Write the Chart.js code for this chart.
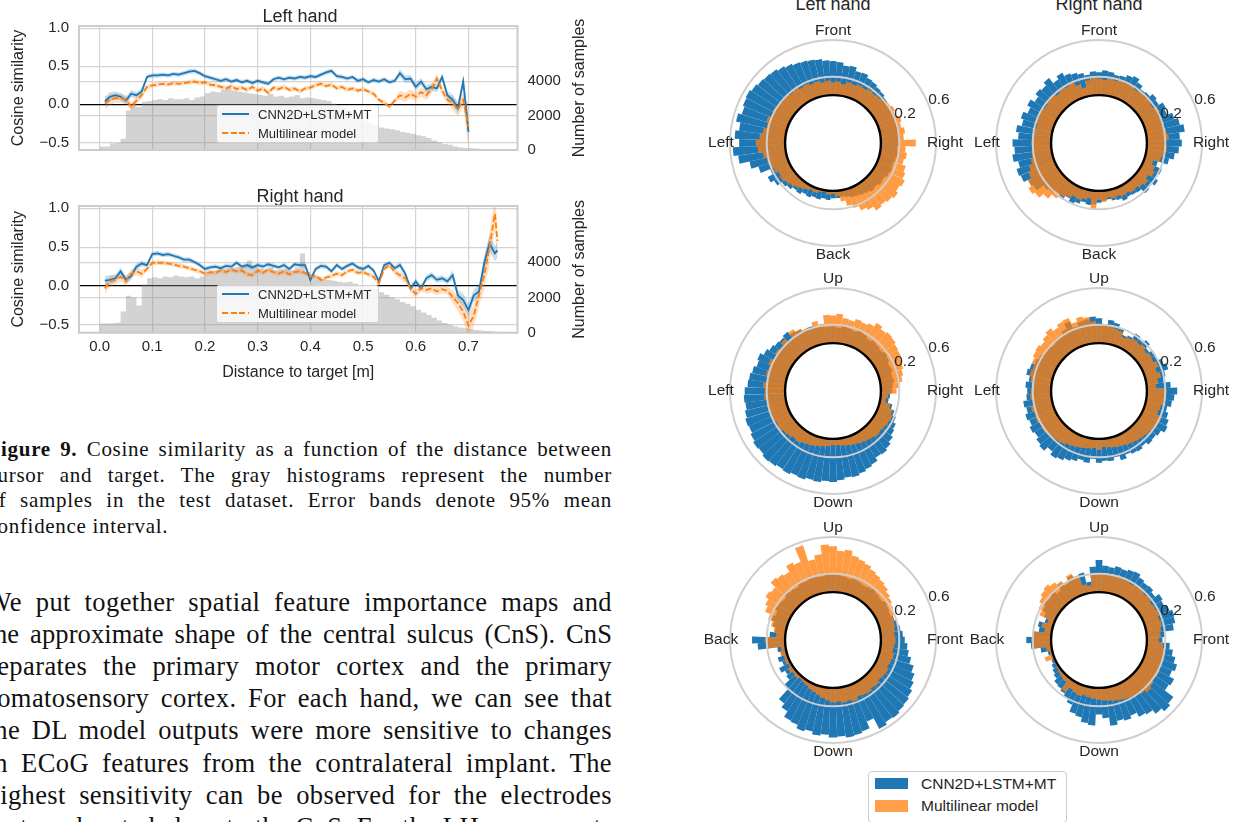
<!DOCTYPE html>
<html lang="en">
<head>
<meta charset="utf-8">
<title>Figure 9 - cosine similarity and sensitivity maps</title>
<script src="https://cdn.jsdelivr.net/npm/chart.js@4.4.1/dist/chart.umd.min.js"></script>
<style>
  html, body { margin: 0; padding: 0; background: #fff; }
  #page { position: relative; width: 1238px; height: 822px; overflow: hidden; background: #fff; }
  #page canvas { position: absolute; }
  .serif { position: absolute; font-family: "Liberation Serif", "Times New Roman", serif; color: #111; white-space: normal; }
  .cap { font-size: 21px; line-height: 25.5px; letter-spacing: 0.7px; left: -12.5px; width: 624.5px; text-align: justify; text-align-last: justify; }
  .cap.last { text-align-last: left; }
  .par { font-size: 26.5px; line-height: 32px; letter-spacing: 0.4px; left: -13.5px; width: 625.5px; text-align: justify; text-align-last: justify; }
  .par.tight { letter-spacing: 0.1px; }
  .sans { position: absolute; font-family: "Liberation Sans", Arial, sans-serif; color: #262626; white-space: nowrap; }
  .ptitle { font-size: 18px; line-height: 18px; width: 200px; text-align: center; }
  .lgd { position: absolute; box-sizing: border-box; width: 163px; height: 38px; background: rgba(255,255,255,0.8); border: 1px solid #d0d0d0; border-radius: 3px; }
  .lgd .solid { position: absolute; left: 5px; top: 6.5px; width: 27px; height: 2px; background: #1f77b4; }
  .lgd .dash { position: absolute; left: 5px; top: 25.8px; width: 27px; height: 2px; background: repeating-linear-gradient(90deg, #ff7f0e 0 6px, transparent 6px 8.6px); }
  .lgd .lab { position: absolute; left: 41px; font-size: 13px; line-height: 16px; }
  .plgd { position: absolute; box-sizing: border-box; left: 868px; top: 771px; width: 199px; height: 52px; background: #fff; border: 1.5px solid #cccccc; border-radius: 4px; }
  .plgd .patch { position: absolute; left: 6px; width: 33px; }
  .plgd .lab { position: absolute; left: 52px; font-size: 15.5px; line-height: 18px; }
</style>
</head>
<body>
<div id="page">
  <canvas id="cos-left" width="600" height="160" style="left:0;top:0"></canvas>
  <canvas id="cos-right" width="600" height="204" style="left:0;top:180px"></canvas>

  <div class="lgd" style="left:216px;top:105px">
    <span class="solid"></span><span class="sans lab" style="top:0.5px">CNN2D+LSTM+MT</span>
    <span class="dash"></span><span class="sans lab" style="top:19.8px">Multilinear model</span>
  </div>
  <div class="lgd" style="left:216px;top:285px">
    <span class="solid"></span><span class="sans lab" style="top:0.5px">CNN2D+LSTM+MT</span>
    <span class="dash"></span><span class="sans lab" style="top:19.8px">Multilinear model</span>
  </div>

  <div class="serif cap" style="top:437px"><b>Figure 9.</b> Cosine similarity as a function of the distance between</div>
  <div class="serif cap" style="top:462.5px">cursor and target. The gray histograms represent the number</div>
  <div class="serif cap" style="top:488px">of samples in the test dataset. Error bands denote 95% mean</div>
  <div class="serif cap last" style="top:513.5px">confidence interval.</div>

  <div class="serif par" style="top:586px">We put together spatial feature importance maps and</div>
  <div class="serif par tight" style="top:618px">the approximate shape of the central sulcus (CnS). CnS</div>
  <div class="serif par" style="top:650px">separates the primary motor cortex and the primary</div>
  <div class="serif par" style="top:682px">somatosensory cortex. For each hand, we can see that</div>
  <div class="serif par" style="top:714px">the DL model outputs were more sensitive to changes</div>
  <div class="serif par" style="top:746.5px">in ECoG features from the contralateral implant. The</div>
  <div class="serif par" style="top:778.5px">highest sensitivity can be observed for the electrodes</div>
  <div class="serif par" style="top:810.5px">that are located close to the CnS. For the LH movements</div>

  <div class="sans ptitle" style="left:733px;top:-5px">Left hand</div>
  <div class="sans ptitle" style="left:999px;top:-5px">Right hand</div>

  <canvas id="pol-lh-fb" width="264" height="246" style="left:701px;top:20px"></canvas>
  <canvas id="pol-rh-fb" width="264" height="246" style="left:967px;top:20px"></canvas>
  <canvas id="pol-lh-ud" width="264" height="246" style="left:701px;top:268px"></canvas>
  <canvas id="pol-rh-ud" width="264" height="246" style="left:967px;top:268px"></canvas>
  <canvas id="pol-lh-bf" width="264" height="246" style="left:701px;top:517px"></canvas>
  <canvas id="pol-rh-bf" width="264" height="246" style="left:967px;top:517px"></canvas>

  <div class="plgd">
    <span class="patch" style="top:6px;height:10.5px;background:#1f77b4"></span>
    <span class="sans lab" style="top:2.5px">CNN2D+LSTM+MT</span>
    <span class="patch" style="top:28px;height:11.5px;background:rgba(255,127,14,0.75)"></span>
    <span class="sans lab" style="top:25px">Multilinear model</span>
  </div>
</div>

<script>
// ------------------------------------------------------------
// Data: cosine similarity vs distance to target
// ------------------------------------------------------------
const DIST_LH = [
  0.01, 0.02, 0.03, 0.04, 0.05, 0.06, 0.07, 0.08, 0.09, 0.10,
  0.11, 0.12, 0.13, 0.14, 0.15, 0.16, 0.17, 0.18, 0.19, 0.20,
  0.21, 0.22, 0.23, 0.24, 0.25, 0.26, 0.27, 0.28, 0.29, 0.30,
  0.31, 0.32, 0.33, 0.34, 0.35, 0.36, 0.37, 0.38, 0.39, 0.40,
  0.41, 0.42, 0.43, 0.44, 0.45, 0.46, 0.47, 0.48, 0.49, 0.50,
  0.51, 0.52, 0.53, 0.54, 0.55, 0.56, 0.57, 0.58, 0.59, 0.60,
  0.61, 0.62, 0.63, 0.64, 0.65, 0.66, 0.67, 0.68, 0.69, 0.70
];
const CNN_LH = [
  0.04, 0.10, 0.12, 0.10, 0.05, 0.14, 0.12, 0.17, 0.36, 0.38,
  0.38, 0.39, 0.38, 0.40, 0.39, 0.41, 0.43, 0.44, 0.41, 0.37,
  0.35, 0.33, 0.31, 0.33, 0.30, 0.32, 0.29, 0.31, 0.28, 0.31,
  0.29, 0.27, 0.33, 0.35, 0.33, 0.35, 0.34, 0.36, 0.35, 0.37,
  0.36, 0.39, 0.42, 0.44, 0.37, 0.36, 0.34, 0.36, 0.31, 0.33,
  0.29, 0.32, 0.30, 0.33, 0.29, 0.31, 0.41, 0.33, 0.34, 0.23,
  0.30, 0.20, 0.23, 0.21, 0.36, 0.12, 0.06, -0.05, 0.30, -0.36
];
const ML_LH = [
  0.01, 0.06, 0.08, 0.08, 0.06, -0.03, 0.05, 0.12, 0.23, 0.25,
  0.26, 0.27, 0.26, 0.28, 0.27, 0.28, 0.29, 0.30, 0.28, 0.29,
  0.26, 0.25, 0.23, 0.21, 0.24, 0.20, 0.22, 0.19, 0.23, 0.18,
  0.21, 0.15, 0.22, 0.20, 0.23, 0.19, 0.21, 0.17, 0.21, 0.22,
  0.25, 0.27, 0.24, 0.26, 0.21, 0.23, 0.19, 0.21, 0.18, 0.20,
  0.17, 0.14, 0.06, 0.02, -0.03, 0.05, 0.12, 0.09, 0.14, 0.10,
  0.16, 0.12, 0.20, 0.34, 0.18, 0.06, 0.02, -0.07, 0.06, -0.30
];
// half widths of the 95% confidence bands
const CI_CNN_LH = [
  0.06, 0.06, 0.05, 0.05, 0.05, 0.05, 0.04, 0.04, 0.03, 0.03,
  0.03, 0.03, 0.03, 0.03, 0.03, 0.03, 0.03, 0.03, 0.03, 0.03,
  0.03, 0.03, 0.03, 0.03, 0.03, 0.03, 0.03, 0.03, 0.03, 0.03,
  0.03, 0.03, 0.03, 0.03, 0.03, 0.03, 0.03, 0.03, 0.03, 0.03,
  0.03, 0.03, 0.03, 0.03, 0.03, 0.03, 0.03, 0.03, 0.03, 0.03,
  0.03, 0.03, 0.03, 0.03, 0.03, 0.03, 0.05, 0.05, 0.05, 0.05,
  0.05, 0.05, 0.05, 0.05, 0.05, 0.05, 0.07, 0.07, 0.07, 0.15
];
const CI_ML_LH = [
  0.07, 0.07, 0.06, 0.06, 0.06, 0.06, 0.05, 0.05, 0.03, 0.03,
  0.03, 0.03, 0.03, 0.03, 0.03, 0.03, 0.03, 0.03, 0.03, 0.03,
  0.03, 0.03, 0.03, 0.03, 0.03, 0.03, 0.03, 0.03, 0.03, 0.03,
  0.03, 0.03, 0.03, 0.03, 0.03, 0.03, 0.03, 0.03, 0.03, 0.03,
  0.03, 0.03, 0.03, 0.03, 0.03, 0.03, 0.03, 0.03, 0.03, 0.03,
  0.03, 0.03, 0.03, 0.03, 0.03, 0.03, 0.06, 0.06, 0.06, 0.06,
  0.06, 0.06, 0.06, 0.06, 0.06, 0.06, 0.09, 0.09, 0.09, 0.30
];

const DIST_RH = [
  0.01, 0.02, 0.03, 0.04, 0.05, 0.06, 0.07, 0.08, 0.09, 0.10,
  0.11, 0.12, 0.13, 0.14, 0.15, 0.16, 0.17, 0.18, 0.19, 0.20,
  0.21, 0.22, 0.23, 0.24, 0.25, 0.26, 0.27, 0.28, 0.29, 0.30,
  0.31, 0.32, 0.33, 0.34, 0.35, 0.36, 0.37, 0.38, 0.39, 0.40,
  0.41, 0.42, 0.43, 0.44, 0.45, 0.46, 0.47, 0.48, 0.49, 0.50,
  0.51, 0.52, 0.53, 0.54, 0.55, 0.56, 0.57, 0.58, 0.59, 0.60,
  0.61, 0.62, 0.63, 0.64, 0.65, 0.66, 0.67, 0.68, 0.69, 0.70,
  0.71, 0.72, 0.73, 0.74, 0.75, 0.755
];
const CNN_RH = [
  0.07, 0.08, 0.10, 0.19, 0.08, 0.13, 0.25, 0.29, 0.27, 0.41,
  0.42, 0.40, 0.41, 0.39, 0.37, 0.34, 0.34, 0.31, 0.27, 0.22,
  0.24, 0.25, 0.23, 0.26, 0.25, 0.30, 0.25, 0.27, 0.24, 0.27,
  0.25, 0.28, 0.26, 0.24, 0.27, 0.22, 0.28, 0.27, 0.27, 0.08,
  0.22, 0.26, 0.25, 0.19, 0.27, 0.22, 0.26, 0.29, 0.24, 0.22,
  0.26, 0.20, 0.06, 0.27, 0.30, 0.23, 0.27, 0.16, -0.03, 0.06,
  -0.03, 0.10, 0.14, 0.08, 0.10, 0.06, 0.14, -0.12, -0.18, -0.31,
  -0.12, -0.07, 0.30, 0.55, 0.42, 0.46
];
const ML_RH = [
  -0.03, 0.06, 0.08, 0.12, 0.06, 0.16, 0.19, 0.16, 0.22, 0.30,
  0.30, 0.30, 0.29, 0.28, 0.26, 0.25, 0.23, 0.21, 0.19, 0.16,
  0.18, 0.17, 0.20, 0.18, 0.21, 0.19, 0.20, 0.15, 0.14, 0.20,
  0.17, 0.21, 0.18, 0.16, 0.19, 0.15, 0.18, 0.19, 0.17, 0.12,
  0.13, 0.08, 0.11, 0.13, 0.16, 0.14, 0.19, 0.21, 0.17, 0.18,
  0.15, 0.12, 0.03, 0.22, 0.27, 0.18, 0.14, 0.10, -0.03, -0.10,
  -0.02, -0.05, -0.03, -0.07, -0.04, -0.06, -0.14, -0.22, -0.33, -0.51,
  -0.38, -0.12, 0.14, 0.50, 0.93, 0.58
];
const CI_CNN_RH = [
  0.06, 0.06, 0.05, 0.05, 0.05, 0.05, 0.04, 0.04, 0.03, 0.03,
  0.03, 0.03, 0.03, 0.03, 0.03, 0.03, 0.03, 0.03, 0.03, 0.03,
  0.03, 0.03, 0.03, 0.03, 0.03, 0.03, 0.03, 0.03, 0.03, 0.03,
  0.03, 0.03, 0.03, 0.03, 0.03, 0.03, 0.03, 0.03, 0.03, 0.03,
  0.03, 0.03, 0.03, 0.03, 0.03, 0.03, 0.03, 0.03, 0.03, 0.03,
  0.03, 0.03, 0.03, 0.03, 0.03, 0.03, 0.04, 0.04, 0.04, 0.04,
  0.04, 0.04, 0.04, 0.04, 0.04, 0.04, 0.06, 0.07, 0.08, 0.08,
  0.08, 0.08, 0.10, 0.10, 0.10, 0.10
];
const CI_ML_RH = [
  0.07, 0.07, 0.06, 0.06, 0.06, 0.06, 0.05, 0.05, 0.03, 0.03,
  0.03, 0.03, 0.03, 0.03, 0.03, 0.03, 0.03, 0.03, 0.03, 0.03,
  0.03, 0.03, 0.03, 0.03, 0.03, 0.03, 0.03, 0.03, 0.03, 0.03,
  0.03, 0.03, 0.03, 0.03, 0.03, 0.03, 0.03, 0.03, 0.03, 0.03,
  0.03, 0.03, 0.03, 0.03, 0.03, 0.03, 0.03, 0.03, 0.03, 0.03,
  0.03, 0.03, 0.03, 0.03, 0.03, 0.03, 0.05, 0.05, 0.05, 0.05,
  0.05, 0.05, 0.05, 0.05, 0.05, 0.05, 0.08, 0.10, 0.12, 0.14,
  0.14, 0.14, 0.18, 0.20, 0.22, 0.22
];

// number of test samples per 1 cm distance bin (0.00 - 0.76 m)
const HIST_LH = [
  190, 200, 380, 400, 650, 2300, 2700, 2500, 2800, 2850,
  2900, 2950, 2900, 3000, 2950, 2950, 3000, 2900, 3050, 3100,
  3300, 3400, 3350, 3500, 3600, 3450, 3400, 3350, 3300, 3250,
  3200, 3150, 3250, 3100, 3150, 3050, 3100, 3200, 3000, 3050,
  3000, 2950, 2900, 2850, 2700, 2600, 2450, 2300, 2100, 1900,
  1700, 1550, 1450, 1300, 1250, 1200, 1150, 1050, 1000, 950,
  850, 800, 700, 550, 450, 350, 300, 200, 150, 120,
  100, 80, 60, 50, 30, 20
];
const HIST_RH = [
  520, 520, 540, 560, 1200, 2100, 2000, 1550, 2750, 3100,
  3150, 3100, 3200, 3150, 3250, 3200, 3150, 3200, 3100, 3200,
  3450, 3500, 3550, 3600, 3650, 3700, 3750, 3800, 4100, 3700,
  3650, 3600, 3700, 3550, 3600, 3650, 3550, 3700, 4500, 3450,
  3300, 3200, 3050, 3000, 2950, 2900, 2850, 2900, 2800, 2700,
  2600, 2550, 2500, 2300, 2150, 2000, 1900, 1750, 1650, 1500,
  1300, 1150, 1000, 850, 700, 550, 450, 350, 300, 250,
  200, 150, 120, 100, 80, 60
];

const X_TICKS = [0.0, 0.1, 0.2, 0.3, 0.4, 0.5, 0.6, 0.7];
const COS_TICKS = [-0.5, 0.0, 0.5, 1.0];
const SAMPLE_TICKS = [0, 2000, 4000];

// ------------------------------------------------------------
// Data: sensitivity per direction, 72 bins of 5 deg, clockwise from top
// ------------------------------------------------------------
const CNN_LH_FB = [
  0.37, 0.36, 0.33, 0.34, 0.30, 0.31, 0.28, 0.27, 0.25, 0.24, 0.22, 0.21,
  0.20, 0.21, 0.19, 0.20, 0.21, 0.19, 0.20, 0.18, 0.19, 0.18, 0.17, 0.18,
  0.17, 0.15, 0.16, 0.14, 0.15, 0.13, 0.12, 0.11, 0.10, 0.08, 0.07, 0.08,
  0.08, 0.10, 0.09, 0.11, 0.10, 0.12, 0.11, 0.14, 0.13, 0.16, 0.18, 0.24,
  0.28, 0.22, 0.33, 0.41, 0.52, 0.57, 0.50, 0.55, 0.51, 0.56, 0.52, 0.54,
  0.55, 0.53, 0.51, 0.50, 0.49, 0.47, 0.45, 0.43, 0.42, 0.41, 0.40, 0.38
];
const ML_LH_FB = [
  0.14, 0.15, 0.13, 0.16, 0.15, 0.17, 0.16, 0.18, 0.17, 0.18, 0.20, 0.22,
  0.24, 0.22, 0.26, 0.24, 0.27, 0.25, 0.38, 0.27, 0.29, 0.27, 0.31, 0.33,
  0.36, 0.34, 0.37, 0.35, 0.33, 0.35, 0.30, 0.27, 0.22, 0.18, 0.12, 0.06,
  0.03, 0.04, 0.02, 0.03, 0.05, 0.04, 0.06, 0.08, 0.10, 0.12, 0.14, 0.16,
  0.15, 0.18, 0.20, 0.22, 0.25, 0.30, 0.32, 0.28, 0.25, 0.22, 0.24, 0.21,
  0.22, 0.20, 0.19, 0.21, 0.18, 0.19, 0.17, 0.18, 0.16, 0.17, 0.15, 0.16
];
const CNN_RH_FB = [
  0.25, 0.27, 0.26, 0.24, 0.25, 0.28, 0.30, 0.26, 0.22, 0.23, 0.27, 0.25,
  0.30, 0.28, 0.34, 0.38, 0.42, 0.36, 0.38, 0.35, 0.31, 0.26, 0.15, 0.22,
  0.20, 0.24, 0.19, 0.22, 0.16, 0.15, 0.14, 0.16, 0.13, 0.12, 0.10, 0.11,
  0.13, 0.15, 0.16, 0.14, 0.17, 0.19, 0.16, 0.21, 0.18, 0.22, 0.24, 0.33,
  0.35, 0.40, 0.42, 0.38, 0.43, 0.40, 0.42, 0.36, 0.39, 0.34, 0.37, 0.32,
  0.36, 0.31, 0.35, 0.33, 0.37, 0.30, 0.34, 0.30, 0.28, 0.26, 0.23, 0.26
];
const ML_RH_FB = [
  0.18, 0.17, 0.19, 0.18, 0.20, 0.19, 0.21, 0.18, 0.20, 0.19, 0.21, 0.18,
  0.22, 0.19, 0.21, 0.20, 0.22, 0.24, 0.20, 0.22, 0.19, 0.17, 0.10, 0.14,
  0.16, 0.12, 0.15, 0.13, 0.11, 0.12, 0.10, 0.11, 0.09, 0.10, 0.08, 0.12,
  0.10, 0.20, 0.09, 0.11, 0.13, 0.12, 0.15, 0.18, 0.24, 0.30, 0.36, 0.39,
  0.35, 0.31, 0.28, 0.24, 0.22, 0.20, 0.21, 0.19, 0.20, 0.18, 0.21, 0.19,
  0.20, 0.18, 0.19, 0.20, 0.17, 0.19, 0.18, 0.20, 0.15, 0.10, 0.17, 0.19
];
const CNN_LH_UD = [
  0.18, 0.17, 0.19, 0.18, 0.17, 0.19, 0.18, 0.16, 0.18, 0.17, 0.16, 0.18,
  0.17, 0.15, 0.16, 0.14, 0.15, 0.13, 0.12, 0.10, 0.09, 0.14, 0.18, 0.22,
  0.25, 0.27, 0.30, 0.33, 0.35, 0.34, 0.38, 0.40, 0.42, 0.44, 0.43, 0.45,
  0.47, 0.46, 0.48, 0.47, 0.49, 0.48, 0.50, 0.49, 0.51, 0.52, 0.50, 0.51,
  0.49, 0.47, 0.48, 0.46, 0.44, 0.45, 0.44, 0.41, 0.40, 0.38, 0.35, 0.37,
  0.33, 0.30, 0.28, 0.27, 0.29, 0.25, 0.24, 0.21, 0.22, 0.20, 0.19, 0.18
];
const ML_LH_UD = [
  0.30, 0.32, 0.28, 0.27, 0.30, 0.29, 0.31, 0.36, 0.33, 0.35, 0.34, 0.32,
  0.31, 0.29, 0.28, 0.26, 0.24, 0.21, 0.17, 0.08, 0.06, 0.12, 0.16, 0.18,
  0.17, 0.16, 0.15, 0.16, 0.14, 0.13, 0.12, 0.11, 0.10, 0.09, 0.08, 0.07,
  0.07, 0.08, 0.09, 0.10, 0.11, 0.12, 0.13, 0.15, 0.14, 0.16, 0.17, 0.19,
  0.18, 0.20, 0.19, 0.21, 0.20, 0.23, 0.22, 0.24, 0.21, 0.23, 0.22, 0.24,
  0.20, 0.23, 0.21, 0.25, 0.19, 0.28, 0.24, 0.22, 0.20, 0.26, 0.22, 0.31
];
const CNN_RH_UD = [
  0.27, 0.21, 0.26, 0.24, 0.20, 0.14, 0.16, 0.22, 0.19, 0.23, 0.17, 0.21,
  0.20, 0.24, 0.27, 0.22, 0.19, 0.26, 0.33, 0.30, 0.28, 0.24, 0.27, 0.30,
  0.32, 0.28, 0.26, 0.27, 0.24, 0.26, 0.25, 0.23, 0.27, 0.22, 0.25, 0.24,
  0.26, 0.22, 0.27, 0.25, 0.28, 0.30, 0.33, 0.35, 0.31, 0.36, 0.34, 0.31,
  0.33, 0.30, 0.32, 0.29, 0.31, 0.27, 0.26, 0.28, 0.25, 0.29, 0.27, 0.24,
  0.22, 0.20, 0.19, 0.18, 0.21, 0.20, 0.24, 0.30, 0.22, 0.26, 0.27, 0.29
];
const ML_RH_UD = [
  0.20, 0.19, 0.21, 0.18, 0.17, 0.12, 0.14, 0.16, 0.15, 0.17, 0.14, 0.16,
  0.15, 0.18, 0.14, 0.17, 0.13, 0.10, 0.21, 0.20, 0.19, 0.17, 0.16, 0.22,
  0.21, 0.19, 0.18, 0.17, 0.16, 0.15, 0.14, 0.13, 0.12, 0.11, 0.10, 0.09,
  0.12, 0.10, 0.11, 0.12, 0.13, 0.14, 0.15, 0.17, 0.18, 0.19, 0.20, 0.22,
  0.21, 0.23, 0.22, 0.24, 0.21, 0.23, 0.22, 0.21, 0.23, 0.25, 0.24, 0.27,
  0.29, 0.30, 0.28, 0.31, 0.34, 0.30, 0.33, 0.34, 0.27, 0.31, 0.29, 0.24
];
const CNN_LH_BF = [
  0.20, 0.19, 0.18, 0.17, 0.18, 0.17, 0.16, 0.17, 0.18, 0.17, 0.16, 0.18,
  0.17, 0.16, 0.18, 0.20, 0.22, 0.24, 0.26, 0.29, 0.31, 0.35, 0.40, 0.44,
  0.47, 0.50, 0.52, 0.53, 0.55, 0.54, 0.57, 0.44, 0.52, 0.54, 0.55, 0.53,
  0.54, 0.51, 0.53, 0.50, 0.52, 0.48, 0.47, 0.40, 0.35, 0.20, 0.12, 0.10,
  0.14, 0.08, 0.11, 0.06, 0.09, 0.30, 0.36, 0.17, 0.12, 0.15, 0.18, 0.16,
  0.19, 0.18, 0.17, 0.19, 0.18, 0.17, 0.19, 0.18, 0.20, 0.19, 0.18, 0.20
];
const ML_LH_BF = [
  0.50, 0.45, 0.47, 0.42, 0.40, 0.38, 0.35, 0.33, 0.31, 0.29, 0.26, 0.24,
  0.22, 0.20, 0.18, 0.17, 0.16, 0.15, 0.16, 0.15, 0.14, 0.16, 0.15, 0.14,
  0.16, 0.15, 0.14, 0.16, 0.15, 0.17, 0.16, 0.15, 0.18, 0.16, 0.17, 0.15,
  0.16, 0.14, 0.12, 0.10, 0.08, 0.07, 0.05, 0.04, 0.03, 0.05, 0.04, 0.06,
  0.03, 0.05, 0.04, 0.07, 0.05, 0.21, 0.22, 0.10, 0.13, 0.17, 0.22, 0.28,
  0.31, 0.35, 0.33, 0.40, 0.38, 0.36, 0.43, 0.40, 0.56, 0.38, 0.42, 0.52
];
const CNN_RH_BF = [
  0.35, 0.29, 0.28, 0.30, 0.29, 0.31, 0.32, 0.29, 0.27, 0.28, 0.25, 0.30,
  0.28, 0.31, 0.34, 0.33, 0.30, 0.20, 0.17, 0.25, 0.29, 0.33, 0.37, 0.34,
  0.40, 0.38, 0.50, 0.53, 0.49, 0.44, 0.42, 0.37, 0.40, 0.38, 0.42, 0.33,
  0.29, 0.41, 0.39, 0.34, 0.32, 0.24, 0.20, 0.17, 0.15, 0.14, 0.10, 0.08,
  0.06, 0.04, 0.03, 0.05, 0.12, 0.22, 0.27, 0.20, 0.14, 0.16, 0.10, 0.13,
  0.17, 0.19, 0.18, 0.20, 0.16, 0.22, 0.18, 0.24, 0.21, 0.23, 0.12, 0.28
];
const ML_RH_BF = [
  0.20, 0.19, 0.20, 0.21, 0.19, 0.20, 0.18, 0.19, 0.20, 0.18, 0.19, 0.17,
  0.18, 0.19, 0.17, 0.18, 0.16, 0.15, 0.13, 0.18, 0.20, 0.21, 0.19, 0.20,
  0.22, 0.21, 0.23, 0.25, 0.22, 0.20, 0.19, 0.18, 0.17, 0.16, 0.15, 0.14,
  0.13, 0.12, 0.11, 0.10, 0.12, 0.11, 0.09, 0.15, 0.06, 0.05, 0.04, 0.03,
  0.02, 0.02, 0.10, 0.03, 0.06, 0.20, 0.21, 0.19, 0.08, 0.12, 0.07, 0.18,
  0.22, 0.25, 0.28, 0.30, 0.27, 0.24, 0.20, 0.26, 0.22, 0.10, 0.08, 0.21
];
const R_TICKS = [0.0, 0.2, 0.6];
const DIR_FB = ['Front', 'Right', 'Back', 'Left'];
const DIR_UD = ['Up', 'Right', 'Down', 'Left'];
const DIR_BF = ['Up', 'Front', 'Down', 'Back'];

(function () {
  'use strict';

  var BLUE = '#1f77b4';
  var ORANGE = '#ff7f0e';
  var GRID = '#d4d4d4';
  var TEXT = '#262626';

  Chart.defaults.font.family = '"Liberation Sans", Arial, sans-serif';
  Chart.defaults.color = TEXT;

  // bin grids (1 cm histogram edges, 5 degree direction bins)
  var HIST_EDGES = [];
  for (var i = 0; i <= 76; i++) HIST_EDGES.push(i / 100);
  var BIN_DEG = [];
  for (var k = 0; k < 72; k++) BIN_DEG.push(k * 5);

  // --- helpers ---

  function pts(xs, ys) {
    return xs.map(function (x, j) { return { x: x, y: ys[j] }; });
  }

  function shifted(xs, ys, hw, sign) {
    return xs.map(function (x, j) { return { x: x, y: ys[j] + sign * hw[j] }; });
  }

  function histPts(counts) {
    return HIST_EDGES.map(function (e, j) {
      return { x: e, y: counts[Math.min(j, counts.length - 1)] };
    });
  }

  function isZero(c) {
    return c.tick && c.tick.value === 0;
  }

  // --- plugins ---

  var frame = {
    id: 'frame',
    afterDraw: function (chart) {
      var a = chart.chartArea, ctx = chart.ctx;
      ctx.save();
      ctx.strokeStyle = '#cccccc';
      ctx.lineWidth = 2;
      ctx.strokeRect(a.left, a.top, a.right - a.left, a.bottom - a.top);
      ctx.restore();
    }
  };

  // right y axis title, read bottom-to-top like the left one
  var rightTitle = {
    id: 'rightTitle',
    afterDraw: function (chart) {
      var a = chart.chartArea, ctx = chart.ctx;
      var text = chart.options.scales.y2.title.text;
      ctx.save();
      ctx.translate(a.right + 62, (a.top + a.bottom) / 2);
      ctx.rotate(-Math.PI / 2);
      ctx.font = '16px "Liberation Sans", Arial, sans-serif';
      ctx.fillStyle = TEXT;
      ctx.textAlign = 'center';
      ctx.textBaseline = 'middle';
      ctx.fillText(text, 0, 0);
      ctx.restore();
    }
  };

  var polarDeco = {
    id: 'polarDeco',
    afterDatasetsDraw: function (chart) {
      var s = chart.scales.r, ctx = chart.ctx;
      ctx.save();
      ctx.beginPath();
      ctx.arc(s.xCenter, s.yCenter, s.getDistanceFromCenterForValue(0), 0, Math.PI * 2);
      ctx.fillStyle = '#fff';
      ctx.fill();
      ctx.restore();
    },
    afterDraw: function (chart, args, opts) {
      var s = chart.scales.r, ctx = chart.ctx;
      ctx.save();
      ctx.font = '15.5px "Liberation Sans", Arial, sans-serif';
      ctx.fillStyle = TEXT;
      ctx.textAlign = 'center';
      ctx.textBaseline = 'middle';
      var rl = s.drawingArea + 9;
      opts.labels.forEach(function (t, q) {
        var ang = q * Math.PI / 2;
        ctx.fillText(t, s.xCenter + rl * Math.sin(ang), s.yCenter - rl * Math.cos(ang));
      });
      // radial tick labels at 22.5 deg above the horizontal
      var ta = 67.5 * Math.PI / 180;
      ctx.textAlign = 'left';
      ctx.textBaseline = 'alphabetic';
      s.ticks.forEach(function (t) {
        if (t.value <= 0) return;
        var r = s.getDistanceFromCenterForValue(t.value);
        ctx.fillText(t.value.toFixed(1), s.xCenter + r * Math.sin(ta), s.yCenter - r * Math.cos(ta));
      });
      ctx.restore();
    }
  };

  // --- cosine similarity charts ---

  function distanceChart(id, cfg) {
    var ds = [
      { label: 'CNN2D+LSTM+MT', data: pts(cfg.dist, cfg.cnn), borderColor: BLUE, borderWidth: 1.8, order: 2 },
      { label: 'Multilinear model', data: pts(cfg.dist, cfg.ml), borderColor: ORANGE, borderWidth: 1.8, borderDash: [6, 2.6], order: 1 },
      { data: shifted(cfg.dist, cfg.cnn, cfg.ciCnn, 1), fill: false, order: 3 },
      { data: shifted(cfg.dist, cfg.cnn, cfg.ciCnn, -1), fill: '-1', backgroundColor: 'rgba(31,119,180,0.25)', order: 3 },
      { data: shifted(cfg.dist, cfg.ml, cfg.ciMl, 1), fill: false, order: 3 },
      { data: shifted(cfg.dist, cfg.ml, cfg.ciMl, -1), fill: '-1', backgroundColor: 'rgba(255,127,14,0.25)', order: 3 },
      { data: histPts(cfg.hist), yAxisID: 'y2', stepped: true, fill: 'origin', backgroundColor: 'rgba(140,140,140,0.38)', order: 4 }
    ];
    ds.forEach(function (d) {
      d.pointRadius = 0;
      d.tension = 0;
      if (!d.yAxisID) d.yAxisID = 'y';
      if (!d.borderColor) { d.borderColor = 'rgba(0,0,0,0)'; d.borderWidth = 0; }
    });

    return new Chart(document.getElementById(id), {
      type: 'line',
      data: { datasets: ds },
      options: {
        responsive: false,
        animation: false,
        events: [],
        layout: { padding: 0 },
        plugins: {
          legend: { display: false },
          tooltip: { enabled: false },
          title: {
            display: true, text: cfg.title, color: TEXT,
            font: { size: 18, weight: 'normal', lineHeight: 1 },
            padding: { top: 8, bottom: 0 }
          }
        },
        scales: {
          x: {
            type: 'linear', min: -0.039, max: 0.793,
            afterBuildTicks: function (s) { s.ticks = X_TICKS.map(function (v) { return { value: v }; }); },
            afterFit: function (s) { s.height = cfg.xHeight; s.paddingLeft = 0; s.paddingRight = 0; },
            ticks: {
              display: cfg.showX, autoSkip: false, maxRotation: 0, padding: 5,
              font: { size: 15 },
              callback: function (v) { return v.toFixed(1); }
            },
            grid: { color: GRID, lineWidth: 1.2, drawTicks: false },
            border: { display: false },
            title: { display: cfg.showX, text: 'Distance to target [m]', font: { size: 16 }, padding: { top: 0, bottom: 2 } }
          },
          y: {
            position: 'left', min: -0.6, max: 1.03,
            afterBuildTicks: function (s) { s.ticks = COS_TICKS.map(function (v) { return { value: v }; }); },
            afterFit: function (s) { s.width = 79; s.paddingTop = 0; s.paddingBottom = 0; },
            ticks: {
              padding: 10, font: { size: 15 },
              callback: function (v) { return (v < 0 ? '\u2212' : '') + Math.abs(v).toFixed(1); }
            },
            grid: {
              drawTicks: false,
              color: function (c) { return isZero(c) ? '#000' : GRID; },
              lineWidth: function (c) { return isZero(c) ? 1.3 : 1.2; }
            },
            border: { display: false },
            title: { display: true, text: 'Cosine similarity', font: { size: 16 }, padding: { top: 9, bottom: 0 } }
          },
          y2: {
            position: 'right', min: 0, max: 7200,
            afterBuildTicks: function (s) { s.ticks = SAMPLE_TICKS.map(function (v) { return { value: v }; }); },
            afterFit: function (s) { s.width = 82.5; s.paddingTop = 0; s.paddingBottom = 0; },
            ticks: { padding: 10, font: { size: 15 }, callback: function (v) { return String(v); } },
            grid: { drawTicks: false, color: GRID, lineWidth: 1.2 },
            border: { display: false },
            title: { display: false, text: 'Number of samples' }
          }
        }
      },
      plugins: [frame, rightTitle]
    });
  }

  // --- direction sensitivity polar charts ---

  function sensitivityPolar(id, cnn, ml, compass) {
    return new Chart(document.getElementById(id), {
      type: 'polarArea',
      data: {
        labels: BIN_DEG,
        datasets: [
          { label: 'Multilinear model', data: ml, backgroundColor: 'rgba(255,127,14,0.78)', borderWidth: 0 },
          { label: 'CNN2D+LSTM+MT', data: cnn, backgroundColor: BLUE, borderWidth: 0 }
        ]
      },
      options: {
        responsive: false,
        animation: false,
        events: [],
        layout: { padding: { left: 29, right: 29, top: 20, bottom: 20 } },
        plugins: {
          legend: { display: false },
          tooltip: { enabled: false },
          polarDeco: { labels: compass }
        },
        scales: {
          r: {
            min: -0.522, max: 0.6, startAngle: -2.5,
            afterBuildTicks: function (s) { s.ticks = R_TICKS.map(function (v) { return { value: v }; }); },
            ticks: { display: false, z: 1 },
            pointLabels: { display: false },
            angleLines: { display: false },
            grid: {
              z: 1, circular: true,
              color: function (c) { return isZero(c) ? '#000' : '#cfcfcf'; },
              lineWidth: function (c) { return isZero(c) ? 2.4 : 2; }
            }
          }
        }
      },
      plugins: [polarDeco]
    });
  }

  // --- init ---

  distanceChart('cos-left', {
    title: 'Left hand', dist: DIST_LH, cnn: CNN_LH, ml: ML_LH,
    ciCnn: CI_CNN_LH, ciMl: CI_ML_LH, hist: HIST_LH, showX: false, xHeight: 10
  });
  distanceChart('cos-right', {
    title: 'Right hand', dist: DIST_RH, cnn: CNN_RH, ml: ML_RH,
    ciCnn: CI_CNN_RH, ciMl: CI_ML_RH, hist: HIST_RH, showX: true, xHeight: 51.3
  });

  sensitivityPolar('pol-lh-fb', CNN_LH_FB, ML_LH_FB, DIR_FB);
  sensitivityPolar('pol-rh-fb', CNN_RH_FB, ML_RH_FB, DIR_FB);
  sensitivityPolar('pol-lh-ud', CNN_LH_UD, ML_LH_UD, DIR_UD);
  sensitivityPolar('pol-rh-ud', CNN_RH_UD, ML_RH_UD, DIR_UD);
  sensitivityPolar('pol-lh-bf', CNN_LH_BF, ML_LH_BF, DIR_BF);
  sensitivityPolar('pol-rh-bf', CNN_RH_BF, ML_RH_BF, DIR_BF);
})();
</script>
</body>
</html>
